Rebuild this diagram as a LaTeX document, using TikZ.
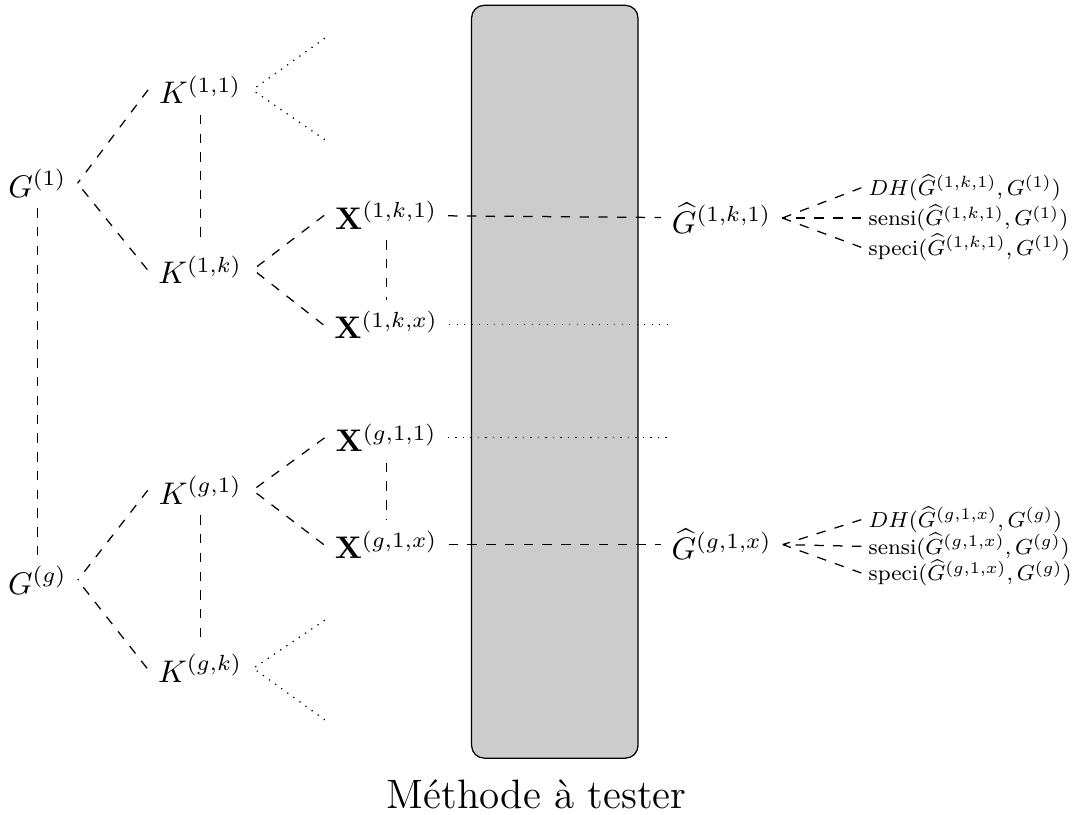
\documentclass[tikz,border=0pt]{standalone}
\usepackage{amsmath,amssymb,bm}
\usepackage{tikz}

\begin{document}
\begin{tikzpicture}
\useasboundingbox (0,0) rectangle (12.07,-9.15);
\tikzset{lien/.style={dashed}, suite/.style={dotted}, crit/.style={font=\footnotesize,scale=0.87,anchor=west,inner sep=2.5pt}}
% la methode
\draw[fill=gray!40,rounded corners] (5.30,-0.06) rectangle (7.17,-8.52);
\node[font=\large,scale=1.095] (meth) at (6.03,-8.93) {Méthode à tester};
% graphes et classes
\node (G1) at (0.42,-2.06) {$G^{(1)}$};
\node (Gg) at (0.42,-6.52) {$G^{(g)}$};
\node (K11) at (2.25,-1.01) {$K^{(1,1)}$};
\node (K1k) at (2.25,-3.03) {$K^{(1,k)}$};
\node (Kg1) at (2.25,-5.51) {$K^{(g,1)}$};
\node (Kgk) at (2.25,-7.51) {$K^{(g,k)}$};
\node (X1k1) at (4.34,-2.42) {$\mathbf{X}^{(1,k,1)}$};
\node (X1kx) at (4.34,-3.65) {$\mathbf{X}^{(1,k,x)}$};
\node (Xg11) at (4.34,-4.92) {$\mathbf{X}^{(g,1,1)}$};
\node (Xg1x) at (4.34,-6.12) {$\mathbf{X}^{(g,1,x)}$};
\node (H1) at (8.11,-2.45) {$\widehat{G}^{(1,k,1)}$};
\node (Hg) at (8.11,-6.12) {$\widehat{G}^{(g,1,x)}$};
% criteres
\node[crit] (DH1) at (9.68,-2.11) {$DH(\widehat{G}^{(1,k,1)},G^{(1)})$};
\node[crit] (se1) at (9.68,-2.45) {sensi$(\widehat{G}^{(1,k,1)},G^{(1)})$};
\node[crit] (sp1) at (9.68,-2.78) {speci$(\widehat{G}^{(1,k,1)},G^{(1)})$};
\node[crit] (DHg) at (9.68,-5.84) {$DH(\widehat{G}^{(g,1,x)},G^{(g)})$};
\node[crit] (seg) at (9.68,-6.14) {sensi$(\widehat{G}^{(g,1,x)},G^{(g)})$};
\node[crit] (spg) at (9.68,-6.44) {speci$(\widehat{G}^{(g,1,x)},G^{(g)})$};
% bouts libres
\coordinate (a1) at (3.65,-0.43);
\coordinate (a2) at (3.65,-1.57);
\coordinate (b1) at (3.65,-6.97);
\coordinate (b2) at (3.65,-8.09);
\coordinate (c1) at (7.51,-3.65);
\coordinate (c2) at (7.51,-4.92);
% liens
\draw[lien] (G1) -- (Gg);
\draw[lien] (K11) -- (K1k);
\draw[lien] (Kg1) -- (Kgk);
\draw[lien] (X1k1) -- (X1kx);
\draw[lien] (Xg11) -- (Xg1x);
\foreach \a/\b in {G1/K11,G1/K1k,Gg/Kg1,Gg/Kgk,K1k/X1k1,K1k/X1kx,Kg1/Xg11,Kg1/Xg1x,H1/DH1,H1/se1,H1/sp1,Hg/DHg,Hg/seg,Hg/spg}
  \draw[lien] (\b.west) -- (\a.east);
\foreach \a/\b in {K11/a1,K11/a2,Kgk/b1,Kgk/b2}
  \draw[suite] (\b) -- (\a.east);
\draw[lien] (X1k1) -- (H1);
\draw[lien] (Xg1x) -- (Hg);
\draw[suite] (X1kx) -- (c1);
\draw[suite] (Xg11) -- (c2);
\end{tikzpicture}
\end{document}
